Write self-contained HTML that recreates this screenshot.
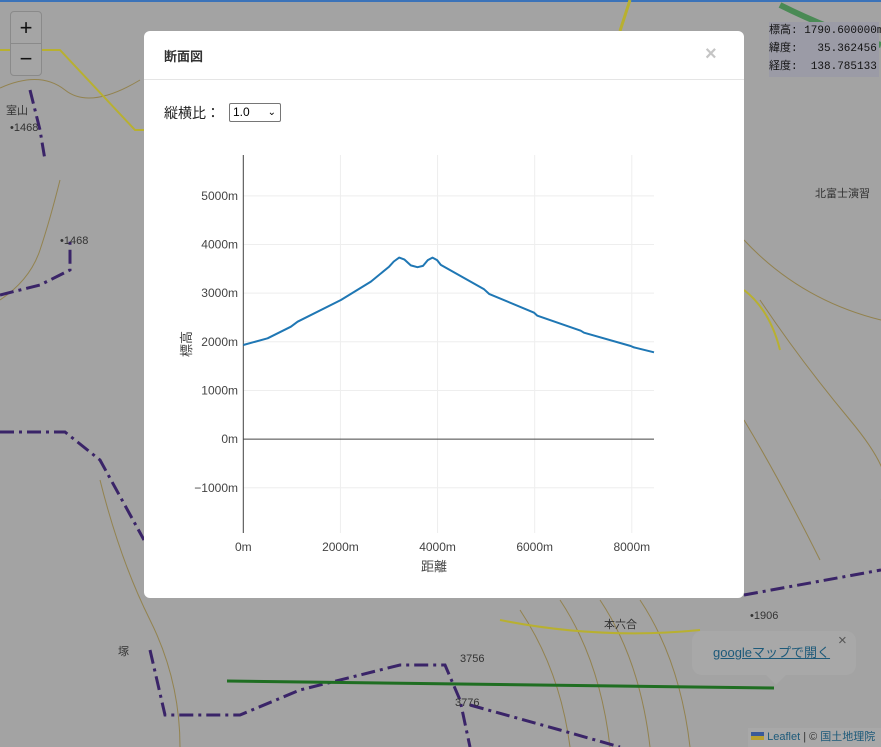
<!DOCTYPE html>
<html><head><meta charset="utf-8">
<style>
body{margin:0;width:881px;height:747px;overflow:hidden;position:relative;background:#a3a3a3;font-family:"Liberation Sans","Noto Sans CJK JP",sans-serif}
.abs{position:absolute}
</style></head>
<body>
<svg class="abs" style="left:0;top:0" width="881" height="747">
 <rect width="881" height="747" fill="#a3a3a3"/>
 <rect x="0" y="0" width="881" height="2" fill="#3b73b9"/>
 <g fill="none" stroke="#8f7a3a" stroke-width="1" opacity="0.8">
  <path d="M0 88 Q40 70 65 90 T140 80"/>
  <path d="M0 300 Q30 280 40 250 T60 180"/>
  <path d="M100 480 Q120 560 150 620 T180 747"/>
  <path d="M760 300 Q800 360 850 420 T881 500"/>
  <path d="M600 600 Q640 660 650 747"/><path d="M640 600 Q680 660 690 747"/>
  <path d="M560 600 Q600 660 610 747"/><path d="M520 610 Q560 670 570 747"/>
  <path d="M744 240 Q800 300 881 320"/><path d="M744 420 Q780 480 820 560"/>
 </g>
 <path d="M0 50 L60 50 L135 130 L144 130" fill="none" stroke="#b8b030" stroke-width="2"/>
 <path d="M630 0 L620 31" fill="none" stroke="#b8b030" stroke-width="3"/>
 <path d="M744 290 Q770 310 780 350" fill="none" stroke="#b8b030" stroke-width="2"/>
 <path d="M500 620 Q600 640 700 630" fill="none" stroke="#b8b030" stroke-width="2"/>
 <path d="M780 5 Q830 30 881 45" fill="none" stroke="#4a8a55" stroke-width="6"/>
 <g fill="none" stroke="#3a2468" stroke-width="3" stroke-dasharray="14 5 3 5">
  <path d="M0 432 L65 432 L100 460 L144 540"/>
  <path d="M0 295 L40 285 L70 270 L70 240"/>
  <path d="M30 90 L40 130 L45 160"/>
  <path d="M150 650 L165 715 L240 715 L300 690 L400 665 L445 665 L460 700 L470 747"/>
  <path d="M744 595 L881 570"/>
  <path d="M470 705 L560 730 L620 747"/>
 </g>
 <path d="M227 681 L774 688" stroke="#1f6e22" stroke-width="3"/>
 <g font-size="11" fill="#333">
  <text x="10" y="131">•1468</text><text x="60" y="244">•1468</text><text x="6" y="114">室山</text>
  <text x="750" y="619">•1906</text><text x="604" y="628">本六合</text><text x="118" y="655">塚</text>
  <text x="460" y="662">3756</text><text x="455" y="706">3776</text><text x="815" y="197">北富士演習</text>
 </g>
</svg>
<div class="abs" style="left:10px;top:11px;width:30px;height:63px;border:1px solid #8a8a8a;border-radius:4px;background:#a5a5a5">
 <div style="height:31px;border-bottom:1px solid #8a8a8a;text-align:center;font-size:22px;line-height:31px;color:#111">+</div>
 <div style="height:31px;text-align:center;font-size:22px;line-height:29px;color:#111">−</div>
</div>
<div class="abs" style="left:769px;top:22px;width:110px;height:55px;background:#9b9ba6;font-family:'Liberation Mono','Noto Sans CJK JP',monospace;font-size:11px;line-height:18px;color:#111;white-space:pre">標高: 1790.600000m
緯度:   35.362456
経度:  138.785133</div>

<div class="abs" style="left:144px;top:31px;width:600px;height:567px;background:#fff;border-radius:6px">
 <div class="abs" style="left:20px;top:15px;font-size:13px;font-weight:bold;color:#333">断面図</div>
 <div class="abs" style="left:561px;top:12px;font-size:20px;font-weight:bold;color:#c5c5c5">×</div>
 <div class="abs" style="left:0;top:48px;width:600px;height:1px;background:#e5e5e5"></div>
 <div class="abs" style="left:20px;top:72px;font-size:14px;color:#222">縦横比：</div>
 <div class="abs" style="left:85px;top:72px;width:47px;height:17px;border:1px solid #767676;border-radius:2px;font-size:12px;line-height:17px;padding-left:3px;box-sizing:content-box;color:#000">1.0 <span style="position:absolute;right:4px;font-size:10px">⌄</span></div>
</div>

<svg id="chart" class="abs" style="left:0;top:0" width="881" height="747"></svg>

<div class="abs" style="left:692px;top:631px;width:164px;height:44px;background:#a8a8a8;border-radius:10px">
 <div class="abs" style="left:21px;top:11px;font-size:13px;color:#1d5a7a;text-decoration:underline">googleマップで開く</div>
 <div class="abs" style="left:146px;top:1px;font-size:15px;color:#555">×</div>
 <div class="abs" style="left:74px;top:44px;width:0;height:0;border-left:10px solid transparent;border-right:10px solid transparent;border-top:10px solid #a8a8a8"></div>
</div>
<div class="abs" style="left:748px;top:728px;width:133px;height:19px;background:#a8a8a8;font-size:11px;line-height:19px;color:#333;white-space:nowrap">&nbsp;<span style="display:inline-block;width:13px;height:8px;background:linear-gradient(#3a5a9a 50%,#b8a030 50%)"></span> <span style="color:#1d5a7a">Leaflet</span> | © <span style="color:#1d5a7a">国土地理院</span></div>

<script>
const distances=[0,500,981,1118,2010,2627,3004,3100,3210,3320,3450,3587,3700,3800,3895,3990,4067,4959,5062,5988,6056,6948,7016,7977,8045,8457];
const elevations=[1934,2072,2311,2414,2860,3237,3545,3650,3731,3690,3570,3533,3560,3680,3731,3680,3580,3080,2984,2599,2537,2229,2188,1914,1886,1784];
const xTicks=[0,2000,4000,6000,8000];
const yTicks=[-1000,0,1000,2000,3000,4000,5000];
const xMax=8457, yMin=-1930, yMax=5840;
const L=243.3,R=654,T=155,B=533;
const sx=v=>L+(v/xMax)*(R-L);
const sy=v=>B-(v-yMin)/(yMax-yMin)*(B-T);
const svg=document.getElementById('chart');
const NS='http://www.w3.org/2000/svg';
function mk(tag,attrs){const e=document.createElementNS(NS,tag);for(const k in attrs)e.setAttribute(k,attrs[k]);svg.appendChild(e);return e;}
xTicks.forEach(v=>{
 const g=mk('line',{x1:sx(v),x2:sx(v),y1:T,y2:B,stroke:'#eee'});
 
 
 const t=mk('text',{x:sx(v),y:551,'text-anchor':'middle','font-size':12,fill:'#444'});
 t.textContent=v+'m';
 
 
});
yTicks.forEach(v=>{
 const g=mk('line',{x1:L,x2:R,y1:sy(v),y2:sy(v),stroke:v===0?'#444':'#eee'});
 
 
 const t=mk('text',{x:238,y:sy(v)+4,'text-anchor':'end','font-size':12,fill:'#444'});
 t.textContent=(v<0?'−'+(-v):v)+'m';
 
 
});
const ax=mk('line',{x1:L,x2:L,y1:T,y2:B,stroke:'#444'});


const d=distances.map((x,i)=>(i?'L':'M')+sx(x).toFixed(1)+' '+sy(elevations[i]).toFixed(1)).join(' ');
const p=mk('path',{d:d,fill:'none',stroke:'#1f77b4','stroke-width':2,'stroke-linejoin':'round'});


const xt=mk('text',{x:434,y:571,'text-anchor':'middle','font-size':13,fill:'#444'});
xt.textContent='距離';


const yt=mk('text',{x:0,y:0,'text-anchor':'middle','font-size':13,fill:'#444',transform:'translate(191,344) rotate(-90)'});
yt.textContent='標高';


</script>
</body></html>
